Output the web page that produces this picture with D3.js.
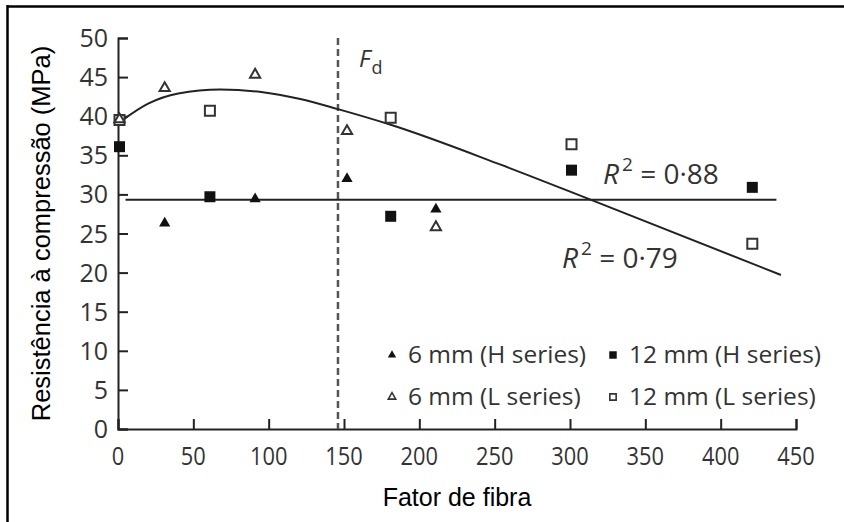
<!DOCTYPE html>
<html lang="en">
<head>
    <meta charset="UTF-8">
    <title>Resistência à compressão vs fator de fibra</title>
    <script src="https://d3js.org/d3.v7.min.js"></script>
    <style>
        body { margin: 0; background: #fff; }
        .tick-label { font-family: "Open Sans", sans-serif; fill: #333; }
        .axis-title { font-family: "Liberation Sans", Arial, sans-serif; fill: #000; }
        .note { font-family: "Open Sans", sans-serif; fill: #333; }
    </style>
</head>
<body>
<svg id="chart" width="844" height="522"></svg>
<script>
    // Axis ticks
    const xTicks = [0, 50, 100, 150, 200, 250, 300, 350, 400, 450];
    const yTicks = [0, 5, 10, 15, 20, 25, 30, 35, 40, 45, 50];

    // Series
    const h6X = [31, 91, 152, 211];
    const h6Y = [26.3, 29.4, 32.0, 28.1];
    const h12X = [1, 61, 181, 301, 421];
    const h12Y = [36.1, 29.7, 27.2, 33.1, 30.9];
    const l6X = [1, 31, 91, 152, 211];
    const l6Y = [39.6, 43.6, 45.3, 38.1, 25.8];
    const l12X = [1, 61, 181, 301, 421];
    const l12Y = [39.5, 40.7, 39.8, 36.4, 23.7];

    // Trend lines
    const hFitX = [5, 437];
    const hFitY = [29.3, 29.3];
    const lFitX = [3, 20, 40, 68, 95, 121, 146, 181, 254, 314, 440];
    const lFitY = [39.5, 41.6, 42.9, 43.4, 43.1, 42.2, 40.9, 38.9, 33.8, 29.3, 19.7];

    const fd = 146;

    const margin = { top: 38, left: 118, right: 48, bottom: 93 };
    const width = 844, height = 522;

    const svg = d3.select("#chart");

    const x = d3.scaleLinear().domain([0, 450]).range([margin.left, width - margin.right]);
    const y = d3.scaleLinear().domain([0, 50]).range([height - margin.bottom, margin.top]);

    // frame (top and left edges visible)
    svg.append("line").attr("x1", 7).attr("x2", width).attr("y1", 6.5).attr("y2", 6.5)
        .attr("stroke", "#000").attr("stroke-width", 2.5);
    svg.append("line").attr("x1", 7.5).attr("x2", 7.5).attr("y1", 5).attr("y2", height)
        .attr("stroke", "#000").attr("stroke-width", 2.5);

    // axes, ticks pointing inward
    const xAxis = svg.append("g")
        .attr("transform", `translate(0,${y(0)})`)
        .call(d3.axisTop(x).tickValues(xTicks).tickSize(10).tickFormat(""));
    const yAxis = svg.append("g")
        .attr("transform", `translate(${x(0)},0)`)
        .call(d3.axisRight(y).tickValues(yTicks).tickSize(10).tickFormat(""));
    [xAxis, yAxis].forEach(g => {
        g.select(".domain").attr("stroke", "#222").attr("stroke-width", 2);
        g.selectAll(".tick line").attr("stroke", "#222").attr("stroke-width", 2);
    });

    // tick labels
    svg.selectAll(".xlab").data(xTicks).enter().append("text")
        .attr("class", "tick-label")
        .attr("transform", d => `translate(${x(d)},465) scale(0.84,1)`)
        .attr("text-anchor", "middle")
        .style("font-size", "26px")
        .text(d => d);
    svg.selectAll(".ylab").data(yTicks).enter().append("text")
        .attr("class", "tick-label")
        .attr("x", x(0) - 10)
        .attr("y", d => y(d) + 9)
        .attr("text-anchor", "end")
        .style("font-size", "25px")
        .text(d => d);

    // axis titles
    svg.append("text").attr("class", "axis-title")
        .attr("x", (x(0) + x(450)) / 2).attr("y", 506)
        .attr("text-anchor", "middle").style("font-size", "25px")
        .text("Fator de fibra");
    svg.append("text").attr("class", "axis-title")
        .attr("transform", `translate(50,${(y(0) + y(50)) / 2}) rotate(-90)`)
        .attr("text-anchor", "middle").style("font-size", "25.5px")
        .text("Resistência à compressão (MPa)");

    // F_d dashed line
    svg.append("line")
        .attr("x1", x(fd)).attr("x2", x(fd))
        .attr("y1", y(50)).attr("y2", y(0))
        .attr("stroke", "#555").attr("stroke-width", 2.5)
        .attr("stroke-dasharray", "7,4");
    const fdText = svg.append("text").attr("class", "note")
        .attr("x", 359).attr("y", 67).style("font-size", "24px");
    fdText.append("tspan").style("font-style", "italic").text("F");
    fdText.append("tspan").attr("dy", 7).attr("dx", 1).style("font-size", "18px").text("d");

    // fit lines
    const line = d3.line().x(d => x(d[0])).y(d => y(d[1]));
    svg.append("path")
        .attr("d", line(d3.zip(hFitX, hFitY)))
        .attr("fill", "none").attr("stroke", "#222").attr("stroke-width", 2);
    svg.append("path")
        .attr("d", line.curve(d3.curveMonotoneX)(d3.zip(lFitX, lFitY)))
        .attr("fill", "none").attr("stroke", "#222").attr("stroke-width", 2);

    // markers
    const tri = (s) => d3.symbol(d3.symbolTriangle, s)();
    const sq = (s) => d3.symbol(d3.symbolSquare, s)();
    function points(xs, ys, path, filled) {
        svg.append("g").selectAll("path")
            .data(d3.zip(xs, ys)).enter().append("path")
            .attr("transform", d => `translate(${x(d[0])},${y(d[1])})`)
            .attr("d", path)
            .attr("fill", filled ? "#111" : "#fff")
            .attr("stroke", filled ? "none" : "#333")
            .attr("stroke-width", 2);
    }
    points(l12X, l12Y, sq(100), false);
    points(l6X, l6Y, tri(45), false);
    points(h12X, h12Y, sq(121), true);
    points(h6X, h6Y, tri(55), true);

    // R² annotations
    function r2(xp, yp, val) {
        const t = svg.append("text").attr("class", "note")
            .attr("x", xp).attr("y", yp).style("font-size", "28px");
        t.append("tspan").style("font-style", "italic").text("R");
        t.append("tspan").attr("dy", -13).attr("dx", 3).style("font-size", "19px").text("2");
        t.append("tspan").attr("dy", 13).text(" = " + val);
    }
    r2(603, 184, "0·88");
    r2(562, 268, "0·79");

    // legend
    const legendItems = [
        { label: "6 mm (H series)", sym: tri(30), filled: true, lx: 392, ly: 355 },
        { label: "12 mm (H series)", sym: sq(56), filled: true, lx: 613, ly: 355 },
        { label: "6 mm (L series)", sym: tri(24), filled: false, lx: 392, ly: 397 },
        { label: "12 mm (L series)", sym: sq(40), filled: false, lx: 613, ly: 397 }
    ];
    legendItems.forEach(it => {
        svg.append("path")
            .attr("transform", `translate(${it.lx},${it.ly})`)
            .attr("d", it.sym)
            .attr("fill", it.filled ? "#111" : "#fff")
            .attr("stroke", it.filled ? "none" : "#333")
            .attr("stroke-width", 1.6);
        svg.append("text").attr("class", "note")
            .attr("x", it.lx + 16).attr("y", it.ly + 8)
            .style("font-size", "24.5px")
            .text(it.label);
    });
</script>
</body>
</html>
